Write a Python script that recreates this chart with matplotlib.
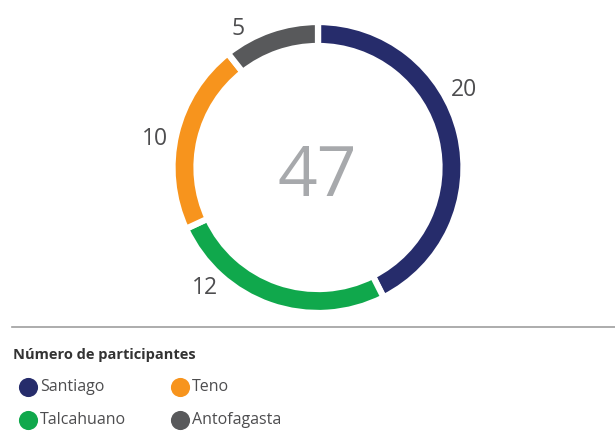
import numpy as np
import matplotlib.pyplot as plt

# participants per city
cities = ["Santiago", "Talcahuano", "Teno", "Antofagasta"]
counts = [20, 12, 10, 5]
colors = ["#262C6B", "#10A84C", "#F7941D", "#58595B"]

# where each count label sits, degrees clockwise from 12 o'clock
label_angles = [62, 223, 280, 330]

# legend layout order (two columns)
legend_order = ["Santiago", "Teno", "Talcahuano", "Antofagasta"]

plt.rcParams["font.family"] = ["Open Sans", "DejaVu Sans"]

W, H = 615, 436
fig = plt.figure(figsize=(W / 100, H / 100), dpi=100)
ax = fig.add_axes([0, 0, 1, 1])

cx, cy = 318, H - 167.5
R = 145.5

ax.pie(counts, colors=colors, startangle=90, counterclock=False,
       center=(cx, cy), radius=R,
       wedgeprops=dict(width=24, edgecolor="white", linewidth=4.5))

ax.set_xlim(0, W)
ax.set_ylim(0, H)
ax.set_aspect("equal")
ax.axis("off")

# value labels around the ring
for n, ang in zip(counts, label_angles):
    th = np.deg2rad(90 - ang)
    r = 1.16 * 142.5 if n != 5 else 1.12 * 142.5
    ax.text(cx + r * np.cos(th), cy + r * np.sin(th), str(n),
            ha="center", va="center", fontsize=16.5, color="#4D4D4F")

# total in the middle
ax.text(cx - 1, cy - 11, str(sum(counts)), ha="center", va="center",
        fontsize=50, color="#A7A9AC")

# separator and legend
ax.plot([12, W], [H - 327, H - 327], color="#9E9E9E", lw=1.2)
ax.text(13, H - 355, "Número de participantes", ha="left", va="center",
        fontsize=10.5, fontweight="bold", color="#333333")

col_x = [28, 180]
row_y = [H - 387, H - 420]
for i, name in enumerate(legend_order):
    x = col_x[i % 2]
    y = row_y[i // 2]
    c = colors[cities.index(name)]
    ax.scatter([x], [y], s=190, color=c, marker="o", linewidths=0)
    ax.text(x + 12, y, name, ha="left", va="center", fontsize=11.5,
            color="#4D4D4F")

fig.savefig("out.png", dpi=100)
